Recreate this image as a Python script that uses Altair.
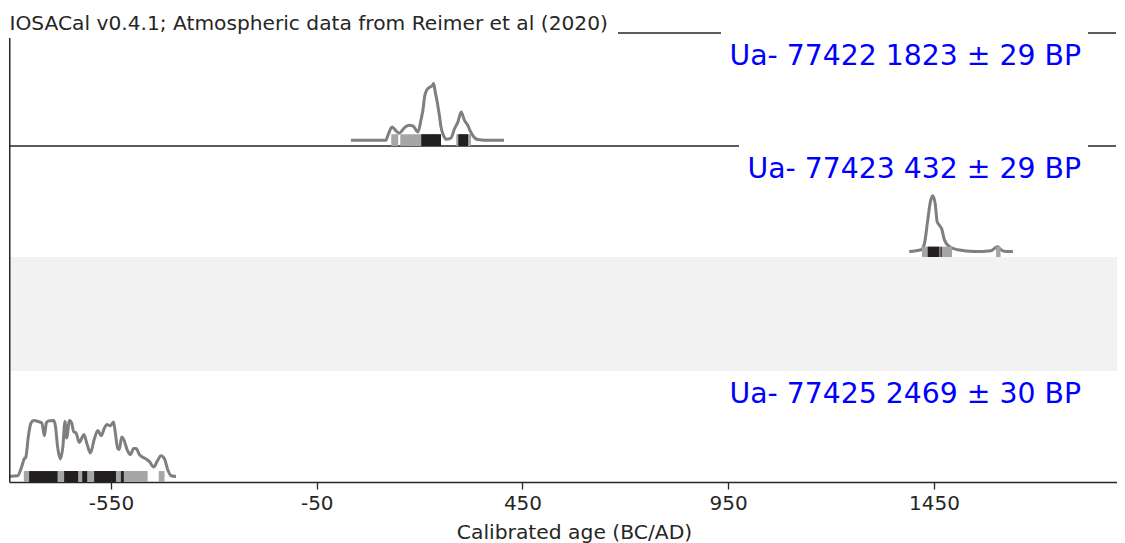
import altair as alt
import pandas as pd

# ---------------- data ----------------
TITLE = "IOSACal v0.4.1; Atmospheric data from Reimer et al (2020)"
labels = ["Ua- 77422 1823 ± 29 BP", "Ua- 77423 432 ± 29 BP", "", "Ua- 77425 2469 ± 30 BP"]
x_title = "Calibrated age (BC/AD)"
xticks = [-550, -50, 450, 950, 1450]

# sample 1: Ua-77422
p1_year = [33, 118, 123, 133, 143, 150, 165, 174, 184, 196, 204, 208, 212, 217, 225, 230, 234,
           238, 242, 248, 252, 259, 264, 276, 285, 293, 301, 309, 317, 323, 329, 341, 360, 405]
p1_dens = [0.16, 0.16, 0.30, 0.53, 0.42, 0.36, 0.53, 0.58, 0.56, 0.39, 0.77, 1.0, 1.37, 1.56, 1.65, 1.68, 1.75,
           1.51, 1.28, 0.86, 0.53, 0.27, 0.19, 0.22, 0.49, 0.67, 0.95, 0.72, 0.58, 0.42, 0.30, 0.18, 0.16, 0.16]
p1_hpd95_start = [131, 153, 289]
p1_hpd95_end = [148, 252, 325]
p1_hpd68_start = [204, 294]
p1_hpd68_end = [252, 318]
p1_bar_top = 0.33

# sample 2: Ua-77423
p2_year = [1390, 1419, 1427, 1435, 1441.5, 1447, 1453, 1458, 1463, 1469, 1475.5, 1488, 1508, 1548,
           1589, 1597, 1605, 1613, 1625, 1642]
p2_dens = [0.12, 0.16, 0.30, 0.82, 1.23, 1.36, 1.19, 0.78, 0.71, 0.62, 0.38, 0.23, 0.16, 0.12,
           0.14, 0.19, 0.23, 0.16, 0.12, 0.12]
p2_hpd95_start = [1421, 1601]
p2_hpd95_end = [1494, 1612]
p2_hpd68_start = [1435, 1466]
p2_hpd68_end = [1463, 1469]
p2_bar_top = 0.23

# sample 4: Ua-77425
p4_year = [-797, -777, -767, -761, -757, -751, -744.5, -738, -727, -718, -712, -707, -700, -689, -685,
           -680, -673, -667, -662, -658, -651, -645.5, -641, -635, -627, -621, -616, -608, -600, -591,
           -582, -574, -566, -560, -552, -544, -540, -534, -530, -524, -519, -511, -503, -495, -489,
           -481, -473, -465, -457, -446, -438, -428.5, -420, -412, -404, -392]
p4_dens = [0.18, 0.2, 0.5, 0.74, 0.8, 1.46, 1.89, 1.97, 1.94, 1.89, 1.48, 1.91, 1.96, 1.97, 1.78,
           1.14, 0.74, 1.14, 1.94, 1.41, 1.97, 1.89, 1.62, 1.57, 1.27, 1.41, 1.52, 1.2, 0.93, 1.36,
           1.65, 1.48, 1.73, 1.84, 1.8, 1.92, 1.62, 1.09, 1.04, 1.44, 1.36, 1.04, 0.88, 1.07, 1.07,
           0.88, 0.79, 0.74, 0.66, 0.48, 0.66, 0.84, 0.74, 0.39, 0.2, 0.18]
p4_hpd95_start = [-762, -434]
p4_hpd95_end = [-461, -420]
p4_hpd68_start = [-749, -664, -620, -591, -526]
p4_hpd68_end = [-680, -630, -608, -538, -519]
p4_bar_top = 0.35

# ---------------- layout / style ----------------
XMIN, XMAX = -798, 1895
W = 1108
H = [113, 111, 114, 111]
YMAX = [3.165, 2.467, 3.115, 3.558]
FONT = "DejaVu Sans"
INK = "#262626"
CURVE = "#7f7f7f"
GRAY = "#a6a6a6"
BLACK = "#231f20"
BLUE = "#0000ff"
BAND = "#f2f2f2"

ONE = alt.Data(values=[{}])


def xenc(field, show_axis):
    if show_axis:
        ax = alt.Axis(values=xticks, labelExpr="'' + datum.value", grid=False,
                      tickSize=7, tickWidth=1.3, tickColor=INK,
                      domainColor=INK, domainWidth=1.5,
                      labelFont=FONT, labelFontSize=20, labelColor=INK, labelPadding=4,
                      title=x_title, titleFont=FONT, titleFontSize=20.3, titleFontWeight="normal",
                      titleColor=INK, titlePadding=9, titleX=565, titleAlign="center")
    else:
        ax = None
    return alt.X(field, scale=alt.Scale(domain=[XMIN, XMAX], nice=False, zero=False), axis=ax)


def yscale(i):
    return alt.Scale(domain=[0, YMAX[i]], nice=False, zero=False)


def spine(i):
    return alt.Chart(ONE).mark_rule(color=INK, strokeWidth=1.5).encode(
        x=alt.value(0.75), y=alt.value(0), y2=alt.value(H[i]))


def sample_layers(i, years, dens, s95, e95, s68, e68, top, show_axis):
    curve_df = pd.DataFrame({"year": years, "dens": dens})
    b95 = pd.DataFrame({"start": s95, "end": e95, "base": 0.0, "top": top})
    b68 = pd.DataFrame({"start": s68, "end": e68, "base": 0.0, "top": top})
    curve = alt.Chart(curve_df).mark_line(color=CURVE, strokeWidth=3, interpolate="monotone").encode(
        x=xenc("year:Q", show_axis), y=alt.Y("dens:Q", scale=yscale(i), axis=None))
    gray = alt.Chart(b95).mark_rect(color=GRAY).encode(
        x=xenc("start:Q", show_axis), x2="end:Q",
        y=alt.Y("base:Q", scale=yscale(i), axis=None), y2="top:Q")
    black = alt.Chart(b68).mark_rect(color=BLACK).encode(
        x=xenc("start:Q", show_axis), x2="end:Q",
        y=alt.Y("base:Q", scale=yscale(i), axis=None), y2="top:Q")
    return [curve, gray, black]


def label_text(i):
    return alt.Chart(pd.DataFrame({"label": [labels[i]]})).mark_text(
        align="right", baseline="alphabetic", font=FONT, fontSize=28.3, color=BLUE).encode(
        x=alt.value(1072), y=alt.value(32), text="label:N")


def white_box(x1, x2, y1, y2):
    return alt.Chart(ONE).mark_rect(color="white").encode(
        x=alt.value(x1), x2=alt.value(x2), y=alt.value(y1), y2=alt.value(y2))


# panel 1
top_rule = alt.Chart(ONE).mark_rule(color=INK, strokeWidth=1.5).encode(
    x=alt.value(0), x2=alt.value(W - 1), y=alt.value(0))
bottom_rule = alt.Chart(ONE).mark_rule(color=INK, strokeWidth=1.5).encode(
    x=alt.value(0), x2=alt.value(W - 1), y=alt.value(H[0]))
title_text = alt.Chart(pd.DataFrame({"t": [TITLE]})).mark_text(
    align="left", baseline="top", font=FONT, fontSize=20.2, color=INK).encode(
    x=alt.value(0.5), y=alt.value(-19), text="t:N")

p1 = alt.layer(
    top_rule, bottom_rule, spine(0),
    white_box(0, 609, -1, 5),
    white_box(712, 1079, -3, 40),
    *sample_layers(0, p1_year, p1_dens, p1_hpd95_start, p1_hpd95_end,
                   p1_hpd68_start, p1_hpd68_end, p1_bar_top, False),
    label_text(0), title_text,
).properties(width=W, height=H[0])

p2 = alt.layer(
    spine(1),
    white_box(730, 1079, -3, 40),
    *sample_layers(1, p2_year, p2_dens, p2_hpd95_start, p2_hpd95_end,
                   p2_hpd68_start, p2_hpd68_end, p2_bar_top, False),
    label_text(1),
).properties(width=W, height=H[1])

p3 = alt.layer(spine(2)).properties(
    width=W, height=H[2], view=alt.ViewBackground(fill=BAND, stroke=None))

p4 = alt.layer(
    *sample_layers(3, p4_year, p4_dens, p4_hpd95_start, p4_hpd95_end,
                   p4_hpd68_start, p4_hpd68_end, p4_bar_top, True),
    spine(3),
    label_text(3),
).properties(width=W, height=H[3])

chart = alt.vconcat(p1, p2, p3, p4, spacing=0, bounds="flush").properties(
    padding={"left": -5, "top": 6, "right": 0, "bottom": 0},
    background="white",
).configure_view(stroke=None)

chart.save("out.html", embed_options={"renderer": "svg", "actions": False})
